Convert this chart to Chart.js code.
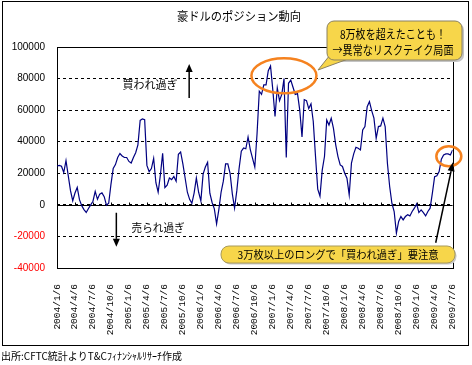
<!DOCTYPE html>
<html lang="ja">
<head>
<meta charset="utf-8">
<title>豪ドルのポジション動向</title>
<script src="https://cdn.jsdelivr.net/npm/chart.js@4.4.1/dist/chart.umd.min.js"></script>
<style>
  html, body { margin: 0; padding: 0; background: #fff; }
</style>
</head>
<body>
<canvas id="chart-pos" width="472" height="365"></canvas>
<script>
// Positions nettes AUD (CFTC), un point toutes les ~1,5 semaines
var TITLE = '豪ドルのポジション動向';
var SOURCE = '出所:CFTC統計よりT&Cﾌｨﾅﾝｼｬﾙﾘｻｰﾁ作成';
var NOTE_TOP = ['8万枚を超えたことも！', '→異常なリスクテイク局面'];
var NOTE_BOTTOM = '3万枚以上のロングで「買われ過ぎ」要注意';
var LABEL_BUY = '買われ過ぎ';
var LABEL_SELL = '売られ過ぎ';

var tickLabels = [
  '2004/1/6', '2004/4/6', '2004/7/6', '2004/10/6',
  '2005/1/6', '2005/4/6', '2005/7/6', '2005/10/6',
  '2006/1/6', '2006/4/6', '2006/7/6', '2006/10/6',
  '2007/1/6', '2007/4/6', '2007/7/6', '2007/10/6',
  '2008/1/6', '2008/4/6', '2008/7/6', '2008/10/6',
  '2009/1/6', '2009/4/6', '2009/7/6'
];
var perQuarter = 8;
var positions = [
  24600, 25000, 24500, 20500, 28000, 18500, 9000, 2600,
  7500, 11000, 3300, -500, -3000, -4800, -2300, 0,
  2300, 8500, 3500, 6800, 7600, 5200, -200, 1000,
  13000, 23000, 25500, 30000, 32500, 31000, 30000, 30000,
  27500, 26500, 30000, 33000, 38000, 53500, 54500, 54000,
  25000, 21000, 23000, 29500, 14000, 8000, 19000, 32700,
  11000, 12500, 17000, 16000, 18000, 15000, 32000, 33500,
  26000, 17000, 8000, 3500, 1000, 7500, 17000, 8000,
  2500, 19500, 24000, 27000, 7400, 1500, -2500, -12000,
  -3000, 8000, 15000, 26000, 26000, 20000, 7000, -2000,
  9000, 23000, 34000, 36000, 35500, 43000, 35000, 29500,
  24000, 45000, 72000, 70000, 76000, 76000, 85000, 88000,
  73000, 56000, 74000, 66000, 70000, 80000, 30000, 77000,
  79000, 74500, 70000, 70500, 60000, 43000, 66700, 66000,
  61000, 64000, 53000, 31000, 10000, 5500, 22000, 30600,
  53800, 50600, 54900, 48500, 38000, 30600, 25300, 24300,
  20000, 16900, 6300, 26400, 32300, 36500, 35900, 34800,
  47500, 49600, 62200, 65400, 59700, 54900, 42200, 49600,
  50000, 54900, 49600, 26400, 11600, 1000, -4200, -17900,
  -10500, -7400, -9500, -7400, -6300, -7000, -4200, -2100,
  600, -4900, -3200, -4900, -7000, -4200, -2100, 7400,
  17900, 18400, 21100, 28900, 31600, 32300, 32300, 31600,
  34800
];
var Y_MIN = -40000;
var Y_MAX = 100000;
var Y_STEP = 20000;

var FONT_JP = '"Noto Sans CJK JP", "Noto Sans", sans-serif';
var YELLOW = '#f7d64a';
var ORANGE = '#f5821f';

function roundRect(ctx, x, y, w, h, r) {
  ctx.beginPath();
  ctx.moveTo(x + r, y);
  ctx.arcTo(x + w, y, x + w, y + h, r);
  ctx.arcTo(x + w, y + h, x, y + h, r);
  ctx.arcTo(x, y + h, x, y, r);
  ctx.arcTo(x, y, x + w, y, r);
  ctx.closePath();
}

function arrow(ctx, x1, y1, x2, y2, len, half) {
  var a = Math.atan2(y2 - y1, x2 - x1);
  var bx = x2 - Math.cos(a) * len;
  var by = y2 - Math.sin(a) * len;
  ctx.beginPath();
  ctx.moveTo(x1, y1);
  ctx.lineTo(bx, by);
  ctx.stroke();
  ctx.beginPath();
  ctx.moveTo(x2, y2);
  ctx.lineTo(bx + Math.sin(a) * half, by - Math.cos(a) * half);
  ctx.lineTo(bx - Math.sin(a) * half, by + Math.cos(a) * half);
  ctx.closePath();
  ctx.fill();
}

var decor = {
  id: 'decor',
  beforeDraw: function (chart) {
    var ctx = chart.ctx;
    ctx.save();
    ctx.fillStyle = '#fff';
    ctx.fillRect(0, 0, chart.width, chart.height);
    ctx.strokeStyle = '#000';
    ctx.lineWidth = 1;
    ctx.strokeRect(2.5, 1.5, 466, 344);
    ctx.fillStyle = '#000';
    ctx.textBaseline = 'middle';
    ctx.textAlign = 'center';
    ctx.font = '12px ' + FONT_JP;
    ctx.fillText(TITLE, 239, 16, 124);
    ctx.textAlign = 'left';
    ctx.font = '10px ' + FONT_JP;
    ctx.fillText(SOURCE, 1, 356, 196);
    ctx.restore();
  },
  beforeDatasetsDraw: function (chart) {
    var ctx = chart.ctx;
    var a = chart.chartArea;
    var sx = chart.scales.x;
    var sy = chart.scales.y;
    var y0 = Math.round(sy.getPixelForValue(0)) + 0.5;
    ctx.save();
    ctx.strokeStyle = '#000';
    ctx.lineWidth = 1;
    ctx.beginPath();
    ctx.moveTo(a.left, y0);
    ctx.lineTo(a.right, y0);
    for (var i = 0; i < tickLabels.length; i++) {
      var px = Math.round(sx.getPixelForValue(i)) + 0.5;
      ctx.moveTo(px, y0);
      ctx.lineTo(px, y0 - 3);
    }
    ctx.stroke();
    ctx.strokeRect(Math.round(a.left) + 0.5, Math.round(a.top) + 0.5,
      Math.round(a.right - a.left), Math.round(a.bottom - a.top));
    ctx.restore();
  },
  afterDatasetsDraw: function (chart) {
    var ctx = chart.ctx;
    var sx = chart.scales.x;
    var sy = chart.scales.y;
    var X = function (q) { return sx.getPixelForValue(q); };
    var Y = function (v) { return sy.getPixelForValue(v); };
    ctx.save();
    ctx.fillStyle = '#000';
    ctx.strokeStyle = '#000';
    ctx.textBaseline = 'middle';
    ctx.textAlign = 'left';
    ctx.font = '11px ' + FONT_JP;
    ctx.fillText(LABEL_BUY, X(3.64), Y(76000), 55);
    ctx.fillText(LABEL_SELL, X(4.15), Y(-14600), 53);
    ctx.lineWidth = 1.5;
    arrow(ctx, X(7.35), Y(67700), X(7.35), Y(89200), 8, 3.5);
    arrow(ctx, X(3.3), Y(-5000), X(3.3), Y(-26600), 8, 3.5);

    // ellipses
    ctx.strokeStyle = ORANGE;
    ctx.lineWidth = 2.5;
    ctx.beginPath();
    ctx.ellipse(X(12.62), Y(81800), 32.5, 17.5, 0, 0, Math.PI * 2);
    ctx.stroke();
    ctx.beginPath();
    ctx.ellipse(X(21.79), Y(30800), 12.5, 10, 0, 0, Math.PI * 2);
    ctx.stroke();

    // top callout
    ctx.fillStyle = '#c4c4c4';
    roundRect(ctx, 329, 23, 135, 39, 7);
    ctx.fill();
    ctx.beginPath();
    ctx.moveTo(330, 55);
    ctx.lineTo(318, 70);
    ctx.lineTo(348, 59);
    ctx.closePath();
    ctx.fillStyle = YELLOW;
    ctx.fill();
    ctx.strokeStyle = '#8a8060';
    ctx.lineWidth = 1;
    ctx.stroke();
    roundRect(ctx, 327, 21, 135, 39, 7);
    ctx.fill();
    ctx.stroke();
    ctx.beginPath();
    ctx.moveTo(331, 58);
    ctx.lineTo(346, 58);
    ctx.strokeStyle = YELLOW;
    ctx.lineWidth = 2;
    ctx.stroke();
    ctx.fillStyle = '#000';
    ctx.textAlign = 'center';
    ctx.font = '12px ' + FONT_JP;
    ctx.fillText(NOTE_TOP[0], 393, 34, 106);
    ctx.fillText(NOTE_TOP[1], 393, 50, 121);

    // bottom callout + arrow
    ctx.fillStyle = '#000';
    ctx.strokeStyle = '#000';
    ctx.lineWidth = 1.5;
    arrow(ctx, X(21.06), Y(-24000), X(22.02), Y(27000), 9, 3.5);
    ctx.fillStyle = '#c8c8c8';
    roundRect(ctx, 222.5, 247.5, 234, 17, 8);
    ctx.fill();
    ctx.fillStyle = YELLOW;
    ctx.strokeStyle = '#a89a5a';
    ctx.lineWidth = 1;
    roundRect(ctx, 221, 246, 234, 17, 8);
    ctx.fill();
    ctx.stroke();
    ctx.fillStyle = '#000';
    ctx.font = '11px ' + FONT_JP;
    ctx.fillText(NOTE_BOTTOM, 338, 255, 201);
    ctx.restore();
  }
};

var data = positions.map(function (v, i) {
  return { x: i / perQuarter, y: v };
});

new Chart(document.getElementById('chart-pos'), {
  type: 'line',
  data: {
    datasets: [
      {
        data: data,
        borderColor: '#000080',
        borderWidth: 1.2,
        pointRadius: 0,
        tension: 0,
        fill: false
      }
    ]
  },
  options: {
    responsive: false,
    animation: false,
    layout: { padding: { left: 0, right: 19, top: 47, bottom: 0 } },
    plugins: { legend: { display: false }, tooltip: { enabled: false } },
    scales: {
      x: {
        type: 'linear',
        min: 0,
        max: tickLabels.length - 1,
        grid: { display: false },
        border: { display: false },
        afterFit: function (s) { s.height = 97; },
        ticks: {
          stepSize: 1,
          autoSkip: false,
          maxRotation: 90,
          minRotation: 90,
          padding: 8,
          color: '#000',
          font: { family: '"Liberation Mono", "DejaVu Sans Mono", monospace', size: 9.5 },
          callback: function (v) {
            return tickLabels[Math.round(v)];
          }
        }
      },
      y: {
        min: Y_MIN,
        max: Y_MAX,
        afterFit: function (s) { s.width = 57; },
        grid: { color: '#000', lineWidth: 1, drawTicks: false },
        border: { display: false, dash: [3, 3] },
        ticks: {
          stepSize: Y_STEP,
          padding: 12,
          font: { family: '"Liberation Sans", Arial, sans-serif', size: 10 },
          color: function (c) {
            return c.tick && c.tick.value < 0 ? '#ff0000' : '#000';
          },
          callback: function (v) {
            return String(v);
          }
        }
      }
    }
  },
  plugins: [decor]
});
</script>
</body>
</html>
